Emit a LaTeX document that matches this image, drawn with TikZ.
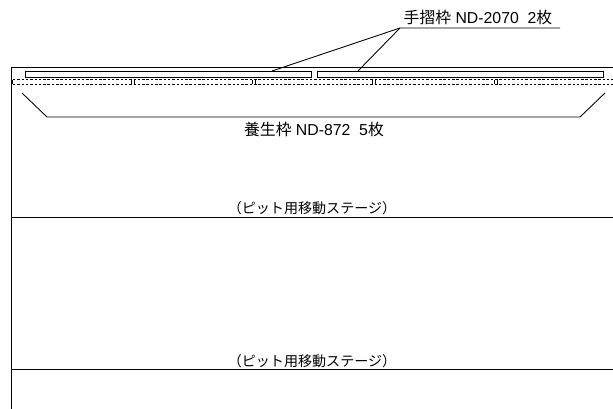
\documentclass[tikz,border=0pt]{standalone}
\usepackage{fontspec}
\setmainfont{Liberation Sans}
\newfontfamily\cjk{Noto Sans CJK JP}
\tikzset{
  rail/.style={draw,line width=0.5pt},
  label/.style={font=\fontsize{9}{10}\selectfont,inner sep=0pt},
  stagetext/.style={font=\fontsize{8}{9}\selectfont,inner sep=0pt},
  stage/.style={line width=0.5pt},
  panel/.style={line width=0.4pt,dash pattern=on 1.4pt off 1.05pt}
}
\begin{document}
\begin{tikzpicture}[x=0.02cm,y=-0.02cm]
\useasboundingbox (0,0) rectangle (613,409);

% stage outline
\draw [stage] (11,409) -- (11,67.5) -- (613,67.5);
\draw [stage] (11,217.4) -- (613,217.4);
\draw [stage] (11,369.4) -- (613,369.4);

\node [stagetext] (stagea) at (312,208) {\cjk（ピット用移動ステージ）};
\node [stagetext] (stageb) at (312,361) {\cjk（ピット用移動ステージ）};

% handrail frames
\node [rail,minimum width=5.72cm,minimum height=0.12cm,inner sep=0pt] (raila) at (168,74) {};
\node [rail,minimum width=5.72cm,minimum height=0.12cm,inner sep=0pt] (railb) at (460,74) {};

% curing frames
\draw [panel] (13,79.6) -- (613,79.6);
\draw [panel] (13,84.6) -- (613,84.6);
\foreach \xa in {12.5,131,134,252,255,372,375,494,497} {
  \draw [panel,solid] (\xa,80) -- (\xa,84);
}

% handrail label
\node [label] (railtext) at (478,18) {{\cjk 手摺枠} ND-2070\ \ 2{\cjk 枚}};
\coordinate (railleft) at (400,28);
\coordinate (railright) at (560,28);
\coordinate (raila end) at (272,71);
\coordinate (railb end) at (358,71);
\draw [stage] (railright) -- (railleft) -- (raila end);
\draw [stage] (railleft) -- (railb end);

% curing label
\node [label] (curetext) at (314,130) {{\cjk 養生枠} ND-872\ \ 5{\cjk 枚}};
\coordinate (curea) at (22,93);
\coordinate (cureb) at (47,117);
\coordinate (curec) at (580,117);
\coordinate (cured) at (605,93);
\draw [stage] (curea) -- (cureb) -- (curec) -- (cured);
\end{tikzpicture}
\end{document}
